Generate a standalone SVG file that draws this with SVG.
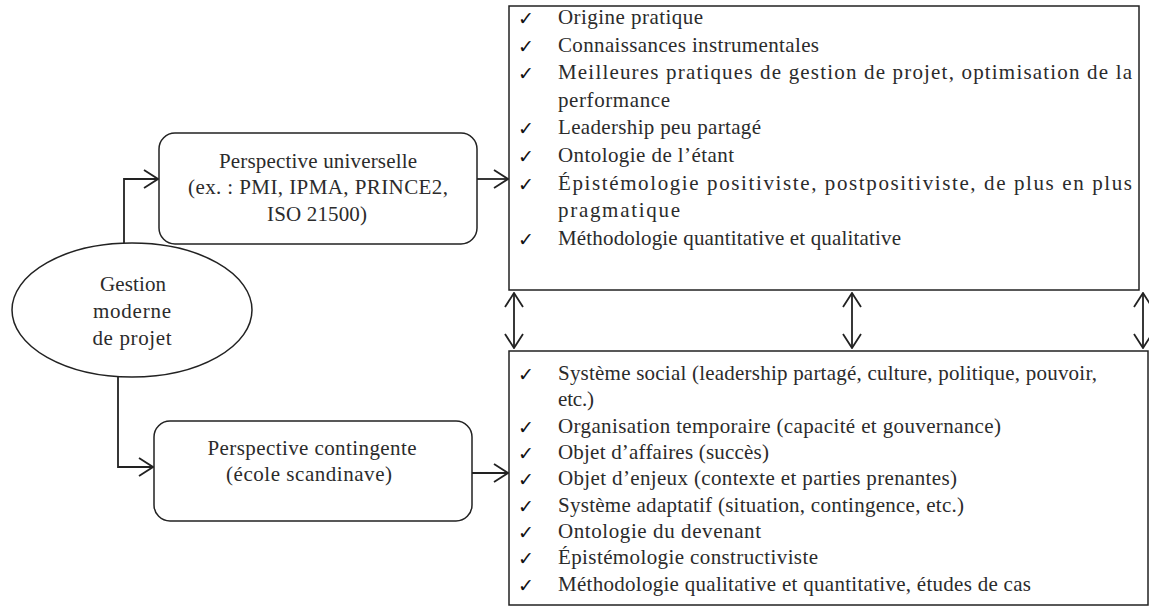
<svg xmlns="http://www.w3.org/2000/svg" width="1149" height="607" viewBox="0 0 1149 607">
<defs>
<style>
.t{font-family:"Liberation Serif","Times New Roman","DejaVu Serif",serif;font-size:21px;fill:#2b2b2b}
.c{font-family:"DejaVu Sans",sans-serif;font-size:19px;fill:#111}
.box{fill:#fff;stroke:#222;stroke-width:1.5}
.ln{fill:none;stroke:#222;stroke-width:1.8}
</style>
<marker id="arr" viewBox="0 0 16 20" refX="15" refY="10" markerWidth="16" markerHeight="20" markerUnits="userSpaceOnUse" orient="auto-start-reverse">
<path d="M1,1 L15,10 L1,19" fill="none" stroke="#222" stroke-width="1.8"/>
</marker>
</defs>
<rect width="1149" height="607" fill="#fff"/>

<g id="n-gestion">
<ellipse cx="132" cy="310" rx="120" ry="67" class="box"/>
<text class="t" x="133" y="291" text-anchor="middle" textLength="66">Gestion</text>
<text class="t" x="132" y="318" text-anchor="middle" textLength="78">moderne</text>
<text class="t" x="132" y="345" text-anchor="middle" textLength="79">de projet</text>
</g>

<g id="n-universelle">
<rect x="159" y="133" width="318" height="111" rx="16" class="box"/>
<text class="t" x="318" y="168" text-anchor="middle" textLength="198">Perspective universelle</text>
<text class="t" x="318" y="194" text-anchor="middle" textLength="260">(ex. : PMI, IPMA, PRINCE2,</text>
<text class="t" x="317" y="221" text-anchor="middle" textLength="100">ISO 21500)</text>
</g>

<g id="n-contingente">
<rect x="154" y="421" width="318" height="100" rx="16" class="box"/>
<text class="t" x="312" y="455" text-anchor="middle" textLength="209">Perspective contingente</text>
<text class="t" x="309" y="481" text-anchor="middle" textLength="166">(école scandinave)</text>
</g>

<g id="n-universelle-list">
<rect x="509" y="6" width="630" height="284" class="box"/>
<text class="c" x="518" y="25">✓</text>
<text class="t" x="558" y="24" textLength="145">Origine pratique</text>
<text class="c" x="518" y="53">✓</text>
<text class="t" x="558" y="52" textLength="261">Connaissances instrumentales</text>
<text class="c" x="518" y="80">✓</text>
<text class="t" x="558" y="79" textLength="574">Meilleures pratiques de gestion de projet, optimisation de la</text>
<text class="t" x="558" y="107" textLength="112">performance</text>
<text class="c" x="518" y="135">✓</text>
<text class="t" x="558" y="134" textLength="203">Leadership peu partagé</text>
<text class="c" x="518" y="163">✓</text>
<text class="t" x="558" y="162" textLength="176">Ontologie de l’étant</text>
<text class="c" x="518" y="191">✓</text>
<text class="t" x="558" y="190" textLength="574">Épistémologie positiviste, postpositiviste, de plus en plus</text>
<text class="t" x="558" y="217" textLength="122">pragmatique</text>
<text class="c" x="518" y="246">✓</text>
<text class="t" x="558" y="245" textLength="343">Méthodologie quantitative et qualitative</text>
</g>

<g id="n-contingente-list">
<rect x="509" y="351" width="639" height="254" class="box"/>
<text class="c" x="518" y="381">✓</text>
<text class="t" x="558" y="380" textLength="539">Système social (leadership partagé, culture, politique, pouvoir,</text>
<text class="t" x="558" y="406" textLength="36">etc.)</text>
<text class="c" x="518" y="434">✓</text>
<text class="t" x="558" y="433" textLength="443">Organisation temporaire (capacité et gouvernance)</text>
<text class="c" x="518" y="460">✓</text>
<text class="t" x="558" y="459" textLength="211">Objet d’affaires (succès)</text>
<text class="c" x="518" y="486">✓</text>
<text class="t" x="558" y="485" textLength="399">Objet d’enjeux (contexte et parties prenantes)</text>
<text class="c" x="518" y="513">✓</text>
<text class="t" x="558" y="512" textLength="406">Système adaptatif (situation, contingence, etc.)</text>
<text class="c" x="518" y="539">✓</text>
<text class="t" x="558" y="538" textLength="203">Ontologie du devenant</text>
<text class="c" x="518" y="565">✓</text>
<text class="t" x="558" y="564" textLength="260">Épistémologie constructiviste</text>
<text class="c" x="518" y="592">✓</text>
<text class="t" x="558" y="591" textLength="473">Méthodologie qualitative et quantitative, études de cas</text>
</g>

<g id="connectors">
<path class="ln" d="M124,243 V179 H158" marker-end="url(#arr)"/>
<path class="ln" d="M477,179 H508" marker-end="url(#arr)"/>
<path class="ln" d="M118,377 V467 H153" marker-end="url(#arr)"/>
<path class="ln" d="M472,473 H508" marker-end="url(#arr)"/>
<path class="ln" d="M514,293 V348" marker-start="url(#arr)" marker-end="url(#arr)"/>
<path class="ln" d="M852,293 V348" marker-start="url(#arr)" marker-end="url(#arr)"/>
<path class="ln" d="M1143,293 V348" marker-start="url(#arr)" marker-end="url(#arr)"/>
</g>
</svg>
